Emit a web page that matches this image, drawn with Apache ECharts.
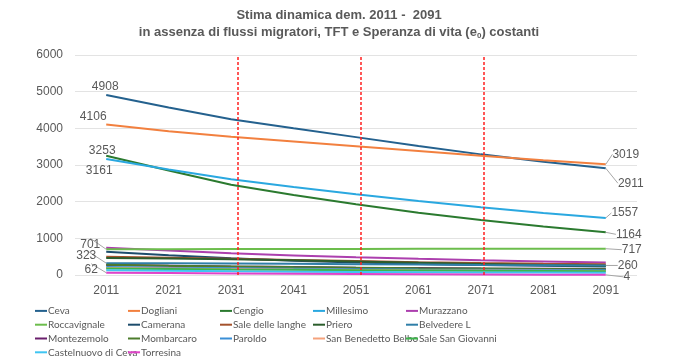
<!DOCTYPE html>
<html>
<head>
<meta charset="utf-8">
<script src="https://cdn.jsdelivr.net/npm/echarts@6/dist/echarts.min.js"></script>
<style>html,body{margin:0;padding:0;background:#fff}#c{width:678px;height:360px}</style>
</head>
<body>
<div id="c"></div>
<script>
const years = ['2011','2021','2031','2041','2051','2061','2071','2081','2091'];
const yTicks = [0, 1000, 2000, 3000, 4000, 5000, 6000];
const markerYears = [2032, 2051.8, 2071.5];

const names = ['Ceva','Dogliani','Cengio','Millesimo','Murazzano','Roccavignale','Camerana','Sale delle langhe','Priero','Belvedere L','Montezemolo','Mombarcaro','Paroldo','San Benedetto Belbo','Sale San Giovanni','Castelnuovo di Ceva','Torresina'];

const ceva        = [4908, 4570, 4250, 4000, 3760, 3520, 3290, 3090, 2911];
const dogliani    = [4106, 3920, 3770, 3640, 3510, 3380, 3250, 3130, 3019];
const cengio      = [3253, 2850, 2460, 2180, 1930, 1700, 1500, 1320, 1164];
const millesimo   = [3161, 2880, 2610, 2400, 2200, 2020, 1846, 1690, 1557];
const murazzano   = [740, 665, 590, 535, 482, 440, 400, 370, 340];
const roccavignale= [701, 705, 708, 710, 712, 714, 715, 716, 717];
const camerana    = [635, 540, 455, 390, 340, 300, 270, 250, 235];
const saleLanghe  = [500, 470, 440, 410, 380, 350, 325, 305, 290];
const priero      = [465, 450, 430, 400, 370, 335, 300, 270, 250];
const belvedere   = [323, 320, 315, 305, 295, 285, 275, 267, 260];
const montezemolo = [270, 250, 230, 215, 200, 190, 180, 172, 165];
const mombarcaro  = [280, 255, 235, 215, 200, 185, 175, 165, 160];
const paroldo     = [220, 200, 185, 170, 158, 148, 140, 133, 128];
const sanBenedetto= [190, 175, 160, 148, 138, 128, 120, 113, 108];
const saleSanGio  = [180, 165, 150, 140, 130, 122, 115, 110, 105];
const castelnuovo = [130, 115, 102, 92, 83, 76, 70, 65, 60];
const torresina   = [62, 52, 43, 35, 28, 21, 15, 9, 4];

const seriesData = [ceva, dogliani, cengio, millesimo, murazzano, roccavignale, camerana, saleLanghe, priero, belvedere, montezemolo, mombarcaro, paroldo, sanBenedetto, saleSanGio, castelnuovo, torresina];

const colors = ['#24618e','#f2803f','#2b7a2f','#2aa8e0','#ac3fae','#6cbd4c','#1d4c6c','#a4522c','#2b5d2c','#2f7ea8','#6a1f6c','#4c7c2c','#3a8fd6','#f5a27c','#3cb54b','#3fc5f2','#e043c9'];

// label placement (style only): key seriesIndex_dataIndex -> [dx, dy, leader]
const labelOffsets = {
  '0_0': [-1, -8, false], '0_8': [25, 15, true],
  '1_0': [-13, -8, false], '1_8': [20, -10, true],
  '2_0': [-4, -5, false], '2_8': [23, 2, true],
  '3_0': [-7, 12, false], '3_8': [19, -5, true],
  '5_0': [-16, -5, true], '5_8': [26, 1, true],
  '9_0': [-20, -7, true], '9_8': [22, 0, true],
  '16_0': [-15, -3, true], '16_8': [21, 2, true]
};

const labelColor = '#595959';
const font = "Lato, 'Liberation Sans', Arial, sans-serif";
const numFont = "'Liberation Sans', Arial, sans-serif";

const series = names.map((n, si) => ({
  name: n,
  type: 'line',
  data: seriesData[si].map((v, di) => {
    const off = labelOffsets[si + '_' + di];
    if (!off) return v;
    return {
      value: v,
      label: { show: true, position: 'inside', color: labelColor, fontSize: 12, fontFamily: numFont },
      labelLine: { show: off[2], lineStyle: { color: '#a6a6a6', width: 1 } }
    };
  }),
  showSymbol: true,
  symbol: 'circle',
  symbolSize: 0,
  labelLayout: function (p) {
    const off = labelOffsets[p.seriesIndex + '_' + p.dataIndex];
    return off ? { dx: off[0], dy: off[1] } : {};
  },
  lineStyle: { width: 2, color: colors[si] },
  itemStyle: { color: colors[si] },
  emphasis: { disabled: true }
}));

series.push({
  name: 'markers',
  type: 'line',
  xAxisIndex: 1,
  data: [],
  markLine: {
    silent: true,
    symbol: ['none', 'none'],
    label: { show: false },
    lineStyle: { color: '#ff2020', type: [3, 2], width: 1.5 },
    data: markerYears.map(y => ({ xAxis: y }))
  },
  z: 5
});

const colGroups = [
  ['Ceva','Roccavignale','Montezemolo','Castelnuovo di Ceva'],
  ['Dogliani','Camerana','Mombarcaro','Torresina'],
  ['Cengio','Sale delle langhe','Paroldo'],
  ['Millesimo','Priero','San Benedetto Belbo'],
  ['Murazzano','Belvedere L','Sale San Giovanni']
];
const colLeft = [35, 128, 220, 313, 406];

const legends = colGroups.map((g, i) => ({
  data: g,
  orient: 'vertical',
  left: colLeft[i],
  top: 304,
  itemGap: 0,
  itemWidth: 12,
  itemHeight: 2,
  icon: 'rect',
  padding: 0,
  itemStyle: { opacity: 1 },
  textStyle: { color: labelColor, fontSize: 10, lineHeight: 13.8, fontFamily: font, padding: [0, 0, 0, -4] }
}));

const chart = echarts.init(document.getElementById('c'), null, { renderer: 'canvas' });
chart.setOption({
  animation: false,
  color: colors,
  title: {
    text: 'Stima dinamica dem. 2011 -  2091\nin assenza di flussi migratori, TFT e Speranza di vita (e{sub|0}) costanti',
    left: 'center',
    top: 2,
    textStyle: {
      color: labelColor, fontSize: 13, fontWeight: 'bold', lineHeight: 17, fontFamily: numFont,
      rich: { sub: { fontSize: 8, fontWeight: 'bold', color: labelColor, fontFamily: numFont, padding: [6, 0, 0, 0] } }
    }
  },
  legend: legends,
  grid: { left: 75, right: 41, top: 55, bottom: 85 },
  xAxis: [{
    type: 'category',
    data: years,
    boundaryGap: true,
    axisLine: { show: false },
    axisTick: { show: false },
    axisLabel: { color: labelColor, fontSize: 12, margin: 10, fontFamily: numFont }
  }, {
    type: 'value',
    min: 2006, max: 2096,
    show: false
  }],
  yAxis: {
    type: 'value',
    min: yTicks[0], max: yTicks[yTicks.length - 1], interval: 1000,
    axisLine: { show: false },
    axisTick: { show: false },
    axisLabel: { color: labelColor, fontSize: 12, margin: 12, fontFamily: numFont, formatter: v => String(v) },
    splitLine: { lineStyle: { color: '#e3e3e3', width: 1 } }
  },
  series: series
});
</script>
</body>
</html>
